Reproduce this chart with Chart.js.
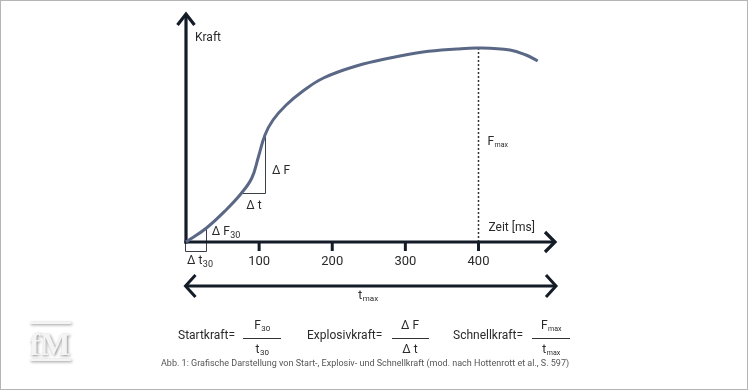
<!DOCTYPE html>
<html><head><meta charset="utf-8">
<script src="https://cdn.jsdelivr.net/npm/chart.js@4"></script>
<style>html,body{margin:0;padding:0;background:#fff}canvas{display:block}</style>
</head><body><canvas id="c" width="748" height="390"></canvas>
<script>
// ---- data ----
const timeMs = [0,28,56,76,90,99,108,119,137,160,188,233,279,324,370,400,443,465,481];
const force  = [0,14,33,49,64,85,107,122,137,151,164,176,184,190,193,194,192,187,181];
const tickValues = [100,200,300,400];
const tickLabels = ['100','200','300','400'];
const deltaT = [77,108];      // Δt interval (ms)
const deltaF = [49,107];      // ΔF interval (force units)
const t30 = 27, f30 = 14;     // Δt30 / ΔF30 point
const tPeak = 400, fPeak = 194;
const xMax = 506, yMax = 229;

const FONT = 'Roboto, "Liberation Sans", sans-serif';
const TXT = '#2a2a2a';

function subText(ctx, main, sub, x, y, size, subSize, align){
  ctx.font = size + 'px ' + FONT;
  const w1 = ctx.measureText(main).width;
  ctx.font = subSize + 'px ' + FONT;
  const w2 = ctx.measureText(sub).width;
  let sx = x;
  if (align === 'center') sx = x - (w1 + w2) / 2;
  ctx.textAlign = 'left'; ctx.textBaseline = 'middle';
  ctx.font = size + 'px ' + FONT;
  ctx.fillText(main, sx, y);
  ctx.font = subSize + 'px ' + FONT;
  ctx.fillText(sub, sx + w1 + 0.5, y + size * 0.28);
}

function chevron(ctx, tx, ty, dx, dy, ax, ay){
  ctx.beginPath();
  ctx.moveTo(tx + dx, ty + dy);
  ctx.lineTo(tx, ty);
  ctx.lineTo(tx + ax, ty + ay);
  ctx.stroke();
}

const annot = {
  id: 'annot',
  beforeDatasetsDraw(chart){
    const {ctx, scales:{x, y}, chartArea} = chart;
    const X = v => x.getPixelForValue(v), Y = v => y.getPixelForValue(v);
    ctx.save();
    ctx.strokeStyle = '#3b4048'; ctx.lineWidth = 1;
    ctx.beginPath();
    ctx.moveTo(X(deltaT[0]), Math.round(Y(deltaF[0])) + 0.5);
    ctx.lineTo(Math.round(X(deltaT[1])) + 0.5, Math.round(Y(deltaF[0])) + 0.5);
    ctx.lineTo(Math.round(X(deltaT[1])) + 0.5, Y(deltaF[1]));
    ctx.stroke();
    ctx.beginPath();
    ctx.moveTo(Math.round(X(0)) - 0.5, Y(0));
    ctx.lineTo(Math.round(X(0)) - 0.5, Math.round(Y(-9)) + 0.5);
    ctx.lineTo(Math.round(X(t30)) + 0.5, Math.round(Y(-9)) + 0.5);
    ctx.lineTo(Math.round(X(t30)) + 0.5, Y(f30));
    ctx.stroke();
    ctx.setLineDash([2, 2]); ctx.lineWidth = 1.5; ctx.strokeStyle = '#333';
    ctx.beginPath();
    ctx.moveTo(Math.round(X(tPeak)) + 0.5, Y(fPeak));
    ctx.lineTo(Math.round(X(tPeak)) + 0.5, Y(0));
    ctx.stroke();
    ctx.setLineDash([]);
    const x0 = X(0), y0 = Y(0);
    ctx.strokeStyle = '#141c28'; ctx.lineWidth = 3.2; ctx.lineCap = 'butt'; ctx.lineJoin = 'miter';
    ctx.beginPath(); ctx.moveTo(x0, y0 + 1.6); ctx.lineTo(x0, chartArea.top + 1); ctx.stroke();
    chevron(ctx, x0, chartArea.top + 1, -8.5, 11, 8.5, 11);
    ctx.beginPath(); ctx.moveTo(x0 - 1.6, y0); ctx.lineTo(chartArea.right - 1, y0); ctx.stroke();
    chevron(ctx, chartArea.right - 1, y0, -10, -10, -10, 10);
    ctx.lineWidth = 3;
    tickValues.forEach(v => {
      ctx.beginPath(); ctx.moveTo(X(v), y0); ctx.lineTo(X(v), y0 + 9); ctx.stroke();
    });
    const ya = 286;
    ctx.beginPath(); ctx.moveTo(x0 - 0.5, ya); ctx.lineTo(chartArea.right, ya); ctx.stroke();
    chevron(ctx, x0 - 0.5, ya, 10, -11, 10, 11);
    chevron(ctx, chartArea.right, ya, -10, -11, -10, 11);
    ctx.restore();
  },
  afterDraw(chart){
    const {ctx, scales:{x, y}} = chart;
    const X = v => x.getPixelForValue(v), Y = v => y.getPixelForValue(v);
    ctx.save();
    ctx.fillStyle = TXT;
    ctx.textBaseline = 'middle';
    ctx.font = '12px ' + FONT; ctx.textAlign = 'left';
    ctx.fillText('Kraft', X(0) + 9, 38);
    ctx.fillText('Zeit [ms]', X(tPeak) + 10, 228);
    ctx.font = '13px ' + FONT; ctx.textAlign = 'center';
    tickValues.forEach((v, i) => ctx.fillText(tickLabels[i], X(v), 262));
    subText(ctx, 'F', 'max', X(tPeak) + 9, 142, 12, 7, 'left');
    ctx.font = '12px ' + FONT; ctx.textAlign = 'left';
    ctx.fillText('\u2206 F', X(deltaT[1]) + 7, 171);
    ctx.fillText('\u2206 t', X(deltaT[0]) + 4, 206);
    subText(ctx, '\u2206 F', '30', X(t30) + 6, 232, 12, 9, 'left');
    subText(ctx, '\u2206 t', '30', X(0) + 1, 261, 12, 9, 'left');
    subText(ctx, 't', 'max', X(xMax / 2) - 3, 296, 12, 8, 'center');
    const fy = 336;
    ctx.font = '12px ' + FONT; ctx.textAlign = 'left';
    ctx.fillText('Startkraft=', 178, fy);
    ctx.fillText('Explosivkraft=', 307, fy);
    ctx.fillText('Schnellkraft=', 453, fy);
    ctx.strokeStyle = '#333'; ctx.lineWidth = 1;
    [[243, 281], [392, 429], [532, 570]].forEach(([a, b]) => {
      ctx.beginPath(); ctx.moveTo(a, 338.5); ctx.lineTo(b, 338.5); ctx.stroke();
    });
    subText(ctx, 'F', '30', 262, 326, 12, 8, 'center');
    subText(ctx, 't', '30', 262, 350, 12, 8, 'center');
    ctx.font = '12px ' + FONT; ctx.textAlign = 'center';
    ctx.fillText('\u2206 F', 410, 326);
    ctx.fillText('\u2206 t', 410, 350);
    subText(ctx, 'F', 'max', 551, 326, 12, 7, 'center');
    subText(ctx, 't', 'max', 551, 350, 12, 7, 'center');
    ctx.font = '9px ' + FONT; ctx.fillStyle = '#555'; ctx.textAlign = 'left';
    ctx.fillText('Abb. 1: Grafische Darstellung von Start-, Explosiv- und Schnellkraft (mod. nach Hottenrott et al., S. 597)', 161, 364, 429);
    // logo
    ctx.shadowColor = 'rgba(0,0,0,0.45)'; ctx.shadowBlur = 3; ctx.shadowOffsetX = 1; ctx.shadowOffsetY = 1;
    ctx.fillStyle = '#f4f4f4';
    ctx.fillRect(30, 322, 41, 2);
    ctx.fillRect(30, 359, 41, 2);
    ctx.font = 'bold 32px "Liberation Serif", "DejaVu Serif", serif';
    ctx.textAlign = 'center'; ctx.textBaseline = 'alphabetic';
    ctx.fillText('fM', 50, 355);
    ctx.shadowColor = 'transparent';
    ctx.strokeStyle = '#b5b5b5'; ctx.lineWidth = 1;
    ctx.strokeRect(0.5, 0.5, 747, 389);
    ctx.restore();
  }
};

new Chart(document.getElementById('c'), {
  type: 'line',
  data: {
    datasets: [{
      data: timeMs.map((t, i) => ({x: t, y: force[i]})),
      borderColor: '#5a6886',
      borderWidth: 3,
      pointRadius: 0,
      tension: 0.4,
      fill: false,
      clip: false
    }]
  },
  options: {
    responsive: false,
    animation: false,
    devicePixelRatio: 1,
    layout: {padding: {left: 186, right: 192, top: 13, bottom: 148}},
    plugins: {legend: {display: false}, tooltip: {enabled: false}},
    scales: {
      x: {type: 'linear', display: false, min: 0, max: xMax},
      y: {type: 'linear', display: false, min: 0, max: yMax}
    }
  },
  plugins: [annot]
});
</script>
</body></html>
